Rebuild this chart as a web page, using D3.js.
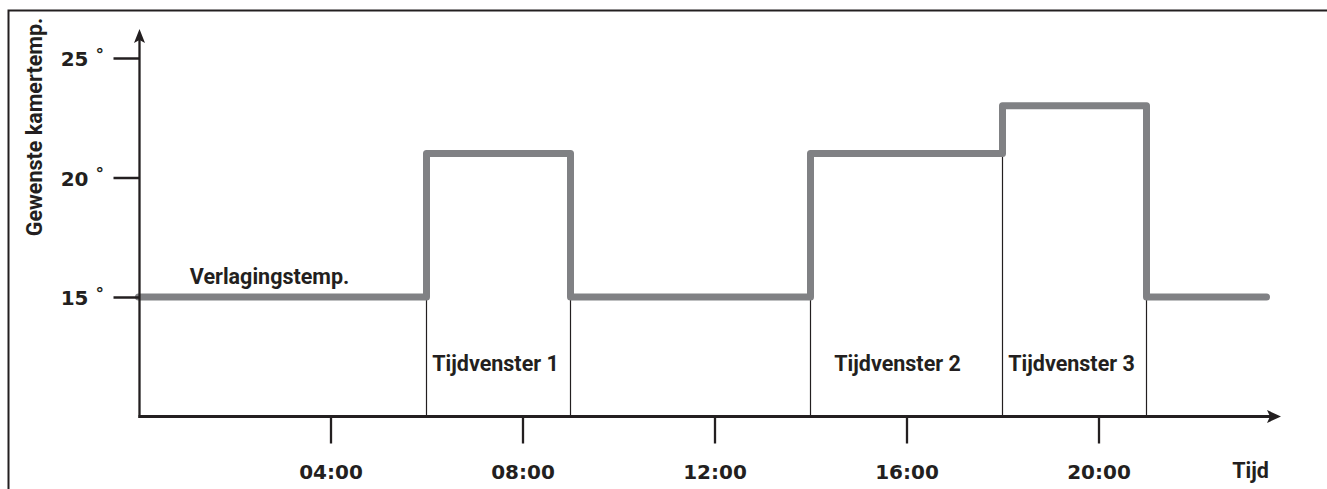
<!DOCTYPE html>
<meta charset="utf-8" />
<script src="https://d3js.org/d3.v7.js"></script>
<style>
  html, body { margin: 0; background: #fff; overflow: hidden; }
  svg { display: block; }
</style>
<div id="chart"></div>
<script>
  // Data
  const changeHours = [0, 6, 9, 14, 18, 21];
  const setTemps = [15, 21, 15, 21, 23, 15];
  const endHour = 23.5;
  const xTickHours = [4, 8, 12, 16, 20];
  const xTickLabels = ["04:00", "08:00", "12:00", "16:00", "20:00"];
  const yTickValues = [15, 20, 25];
  const windowLabels = ["Tijdvenster 1", "Tijdvenster 2", "Tijdvenster 3"];
  const windowIndex = [1, 3, 4]; // which step each label belongs to

  const width = 1327, height = 489;
  const ink = "#231f20";
  const wordFont = "Roboto, 'Noto Sans', sans-serif";
  const digitFont = "'DejaVu Sans', sans-serif";

  const svg = d3
    .select("#chart")
    .append("svg")
    .attr("width", width)
    .attr("height", height);

  // frame (only top and left edges are in the picture)
  svg.append("path")
    .attr("d", `M8.5,${height} V10.5 H${width}`)
    .attr("fill", "none")
    .attr("stroke", ink)
    .attr("stroke-width", 2);

  const x = d3.scaleLinear().domain([0, 24]).range([138.5, 1290.5]);
  const y = d3.scaleLinear().domain([10, 25]).range([416.5, 58]);

  // points for the step line
  const pts = changeHours.map((h, i) => [h, setTemps[i]]);
  pts.push([endHour, setTemps[setTemps.length - 1]]);

  // thin drop lines at each change, from the lower of the two levels
  const drops = changeHours.slice(1).map((h, i) => ({
    hour: h,
    temp: Math.min(setTemps[i], setTemps[i + 1])
  }));

  svg.selectAll(".drop")
    .data(drops)
    .join("line")
    .attr("class", "drop")
    .attr("x1", d => x(d.hour))
    .attr("x2", d => x(d.hour))
    .attr("y1", d => y(d.temp))
    .attr("y2", y(10))
    .attr("stroke", ink)
    .attr("stroke-width", 1.2);

  const line = d3.line()
    .x(d => x(d[0]))
    .y(d => y(d[1]))
    .curve(d3.curveStepAfter);

  svg.append("path")
    .datum(pts)
    .attr("d", line)
    .attr("fill", "none")
    .attr("stroke", "#808184")
    .attr("stroke-width", 7)
    .attr("stroke-linejoin", "round")
    .attr("stroke-linecap", "round");

  // X axis ticks + labels
  const xAxis = svg.append("g")
    .attr("transform", `translate(0, ${y(10)})`)
    .call(
      d3.axisBottom(x)
        .tickValues(xTickHours)
        .tickFormat((d, i) => xTickLabels[i])
        .tickSize(27)
        .tickPadding(21)
    );
  xAxis.select(".domain").remove();
  xAxis.selectAll(".tick line").attr("stroke", ink).attr("stroke-width", 2.3);
  xAxis.selectAll(".tick text")
    .attr("fill", ink)
    .style("font-family", digitFont)
    .style("font-weight", "bold")
    .style("font-size", "20px");

  // Y axis ticks + labels
  const yAxis = svg.append("g")
    .attr("transform", `translate(${x(0) + 1}, 0)`)
    .call(
      d3.axisLeft(y)
        .tickValues(yTickValues)
        .tickSize(26)
        .tickPadding(25)
    );
  yAxis.select(".domain").remove();
  yAxis.selectAll(".tick line").attr("stroke", ink).attr("stroke-width", 2.5);
  yAxis.selectAll(".tick text")
    .attr("fill", ink)
    .attr("dy", "0.38em")
    .style("font-family", digitFont)
    .style("font-weight", "bold")
    .style("font-size", "20px");
  yAxis.selectAll(".tick")
    .append("text")
    .attr("x", -44)
    .attr("dy", "0.12em")
    .attr("fill", ink)
    .attr("text-anchor", "start")
    .style("font-family", digitFont)
    .style("font-weight", "bold")
    .style("font-size", "17px")
    .text("°");

  // axis lines with arrow heads
  const ax0 = x(0) + 1, ay0 = y(10);
  svg.append("line")
    .attr("x1", ax0).attr("x2", ax0)
    .attr("y1", ay0 + 1.5).attr("y2", 40)
    .attr("stroke", ink).attr("stroke-width", 2.3);
  svg.append("path")
    .attr("d", `M${ax0},29 L${ax0 + 5.5},43 L${ax0},40 L${ax0 - 5.5},43 Z`)
    .attr("fill", ink);

  svg.append("line")
    .attr("x1", ax0 - 1).attr("x2", 1270)
    .attr("y1", ay0).attr("y2", ay0)
    .attr("stroke", ink).attr("stroke-width", 3.2);
  svg.append("path")
    .attr("d", `M1281,${ay0} L1267,${ay0 - 6.5} L1270,${ay0} L1267,${ay0 + 6.5} Z`)
    .attr("fill", ink);

  // texts
  const word = sel => sel
    .attr("fill", ink)
    .style("font-family", wordFont)
    .style("font-weight", "bold")
    .style("font-size", "21.5px");

  svg.append("text")
    .attr("transform", `translate(42, 127) rotate(-90)`)
    .attr("text-anchor", "middle")
    .call(word)
    .text("Gewenste kamertemp.");

  svg.append("text")
    .attr("x", x(1.07))
    .attr("y", y(setTemps[0]) - 13)
    .call(word)
    .text("Verlagingstemp.");

  svg.selectAll(".win")
    .data(windowLabels)
    .join("text")
    .attr("class", "win")
    .attr("x", (d, i) => {
      const k = windowIndex[i];
      return (x(changeHours[k]) + x(changeHours[k + 1])) / 2 - (i === 1 ? 9 : 3);
    })
    .attr("y", 371)
    .attr("text-anchor", "middle")
    .call(word)
    .text(d => d);

  svg.append("text")
    .attr("x", 1250.5)
    .attr("y", 478)
    .attr("text-anchor", "middle")
    .call(word)
    .text("Tijd");
</script>
